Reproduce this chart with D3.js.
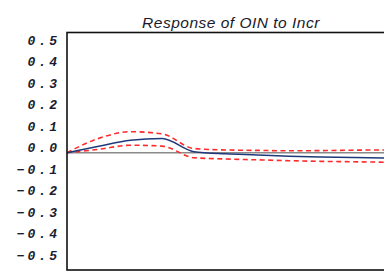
<!DOCTYPE html>
<html>
<head>
<meta charset="utf-8">
<script src="https://cdn.jsdelivr.net/npm/d3@7"></script>
<style>
  body { margin: 0; background: #fff; }
  svg { display: block; }
</style>
</head>
<body>
<svg class="chart"></svg>
<script>
// impulse response, periods 1..11
var periods = [1, 2, 3, 4, 5, 6, 7, 8, 9, 10, 11];
var response = [0.000, 0.030, 0.058, 0.066, 0.005, -0.005, -0.010, -0.016, -0.020, -0.022, -0.025];
var upperBand = [0.000, 0.067, 0.098, 0.088, 0.020, 0.013, 0.011, 0.009, 0.010, 0.012, 0.013];
var lowerBand = [0.000, 0.016, 0.035, 0.031, -0.023, -0.029, -0.033, -0.037, -0.040, -0.042, -0.044];
var yTicks = [0.5, 0.4, 0.3, 0.2, 0.1, 0.0, -0.1, -0.2, -0.3, -0.4, -0.5];
var xTickLabels = ["1", "2", "3", "4", "5", "6", "7", "8", "9", "10"];
var title = "Response of OIN to Incr";

function renderChart() {
    var width = 384, height = 275;
    var left = 67, top = 32.5, bottom = 270;

    var chart = d3.select('.chart')
        .attr('width', width)
        .attr('height', height);

    var x = d3.scaleLinear()
        .domain([1, 11])
        .range([left, 384]);

    var y = d3.scaleLinear()
        .domain([-0.5465, 0.5605])
        .range([bottom, top]);

    var right = x(11.4);

    // title
    chart.append('text')
        .attr('x', 231)
        .attr('y', 28)
        .attr('text-anchor', 'middle')
        .style('font-family', '"Liberation Sans", Arial, sans-serif')
        .style('font-style', 'italic')
        .style('font-size', '15.5px')
        .style('letter-spacing', '0.5px')
        .style('fill', '#1a1a2a')
        .text(title);

    // y tick labels
    chart.append('g').selectAll('text')
        .data(yTicks)
        .enter()
        .append('text')
        .attr('x', 60)
        .attr('y', function(d) { return y(d) - 0.5; })
        .attr('text-anchor', 'end')
        .style('font-family', '"Liberation Mono", "DejaVu Sans Mono", monospace')
        .style('font-weight', 'bold')
        .style('font-style', 'italic')
        .style('font-size', '13px')
        .style('letter-spacing', '3px')
        .style('fill', '#1b1b30')
        .text(function(d) {
            var s = d.toFixed(1);
            return d < 0 ? '\u2212' + s.slice(1) : s;
        });

    // x tick labels (mostly below the visible area)
    chart.append('g').selectAll('text')
        .data(xTickLabels)
        .enter()
        .append('text')
        .attr('x', function(d, i) { return x(i + 1.55); })
        .attr('y', 283)
        .attr('text-anchor', 'middle')
        .style('font-family', '"Liberation Sans", Arial, sans-serif')
        .style('font-size', '11px')
        .style('fill', '#bbb')
        .text(function(d) { return d; });

    // zero line
    chart.append('line')
        .attr('x1', left).attr('x2', right)
        .attr('y1', y(0)).attr('y2', y(0))
        .attr('stroke', '#8a8a8a')
        .attr('stroke-width', 1.5);

    var line = d3.line()
        .x(function(d) { return x(d[0]); })
        .y(function(d) { return y(d[1]); })
        .curve(d3.curveMonotoneX);

    function pairs(vals) {
        return periods.map(function(p, i) { return [p, vals[i]]; });
    }

    chart.append('path')
        .datum(pairs(upperBand))
        .attr('d', line)
        .attr('fill', 'none')
        .attr('stroke', '#ff2a2a')
        .attr('stroke-width', 1.6)
        .attr('stroke-dasharray', '5,3.5');

    chart.append('path')
        .datum(pairs(lowerBand))
        .attr('d', line)
        .attr('fill', 'none')
        .attr('stroke', '#ff2a2a')
        .attr('stroke-width', 1.6)
        .attr('stroke-dasharray', '5,3.5');

    chart.append('path')
        .datum(pairs(response))
        .attr('d', line)
        .attr('fill', 'none')
        .attr('stroke', '#1f3a7a')
        .attr('stroke-width', 1.5);

    // frame
    chart.append('rect')
        .attr('x', left)
        .attr('y', top)
        .attr('width', right - left)
        .attr('height', bottom - top)
        .attr('fill', 'none')
        .attr('stroke', '#111')
        .attr('stroke-width', 1.6);
}

window.onload = renderChart;
</script>
</body>
</html>
